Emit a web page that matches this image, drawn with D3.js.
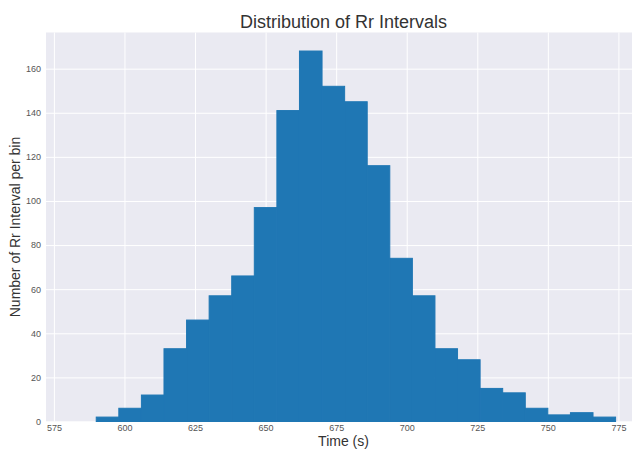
<!DOCTYPE html>
<html>
<head>
<meta charset="utf-8">
<script src="https://cdn.jsdelivr.net/npm/d3@7"></script>
<style>
  body { margin: 0; background: #fff; overflow: hidden; }
  text { font-family: "Liberation Sans", Arial, sans-serif; }
</style>
</head>
<body>
<script>
// histogram of Rr intervals, bins of 8 starting at 590

var binEdges = [590, 598, 606, 614, 622, 630, 638, 646, 654, 662, 670, 678,
                686, 694, 702, 710, 718, 726, 734, 742, 750, 758, 766, 774];
var counts = [2, 6, 12, 33, 46, 57, 66, 97, 141, 168, 152, 145,
              116, 74, 57, 33, 28, 15, 13, 6, 3, 4, 2];
var xTicks = [575, 600, 625, 650, 675, 700, 725, 750, 775];
var yTicks = [0, 20, 40, 60, 80, 100, 120, 140, 160];

var width = 632, height = 450;
// plot box (right side runs past the picture edge, as in the reference)
var pLeft = 46, pRight = 641, pTop = 32.5, pBottom = 421.5;

var svg = d3.select('body').append('svg')
  .attr('width', width)
  .attr('height', height);

var xScale = d3.scaleLinear().domain([572.2, 783]).range([pLeft, pRight]);
var yScale = d3.scaleLinear().domain([0, 176.4]).range([pBottom, pTop]);

// background
svg.append('rect')
  .attr('x', pLeft).attr('y', pTop)
  .attr('width', pRight - pLeft).attr('height', pBottom - pTop)
  .attr('fill', '#eaeaf2');

// grid
var xAxis = d3.axisBottom(xScale).tickValues(xTicks).tickSize(-(pBottom - pTop)).tickPadding(5);
var yAxis = d3.axisLeft(yScale).tickValues(yTicks).tickSize(-(pRight - pLeft)).tickPadding(5);

var gx = svg.append('g').attr('transform', 'translate(0,' + pBottom + ')').call(xAxis);
var gy = svg.append('g').attr('transform', 'translate(' + pLeft + ',0)').call(yAxis);

[gx, gy].forEach(function(g){
  g.select('.domain').remove();
  g.selectAll('.tick line').attr('stroke', '#fff').attr('stroke-width', 1);
  g.selectAll('.tick text').attr('fill', '#555').style('font-size', '9px');
});
gx.selectAll('.tick text').attr('dy', '0.55em');

// bars
var bins = counts.map(function(c, i){ return {x0: binEdges[i], x1: binEdges[i + 1], n: c}; });

svg.append('g').selectAll('rect').data(bins).enter().append('rect')
  .attr('x', function(d){ return xScale(d.x0); })
  .attr('width', function(d){ return xScale(d.x1) - xScale(d.x0); })
  .attr('y', function(d){ return yScale(d.n); })
  .attr('height', function(d){ return pBottom - yScale(d.n); })
  .attr('fill', '#1f77b4')
  .attr('stroke', '#1f77b4')
  .attr('stroke-width', 1);

// title and labels
svg.append('text')
  .attr('x', (pLeft + pRight) / 2).attr('y', 28)
  .attr('text-anchor', 'middle')
  .attr('fill', '#333')
  .style('font-size', '18px')
  .text('Distribution of Rr Intervals');

svg.append('text')
  .attr('x', (pLeft + pRight) / 2).attr('y', 446)
  .attr('text-anchor', 'middle')
  .attr('fill', '#333')
  .style('font-size', '14px')
  .text('Time (s)');

svg.append('text')
  .attr('transform', 'translate(20,' + (pTop + pBottom) / 2 + ') rotate(-90)')
  .attr('text-anchor', 'middle')
  .attr('fill', '#333')
  .style('font-size', '14px')
  .text('Number of Rr Interval per bin');
</script>
</body>
</html>
